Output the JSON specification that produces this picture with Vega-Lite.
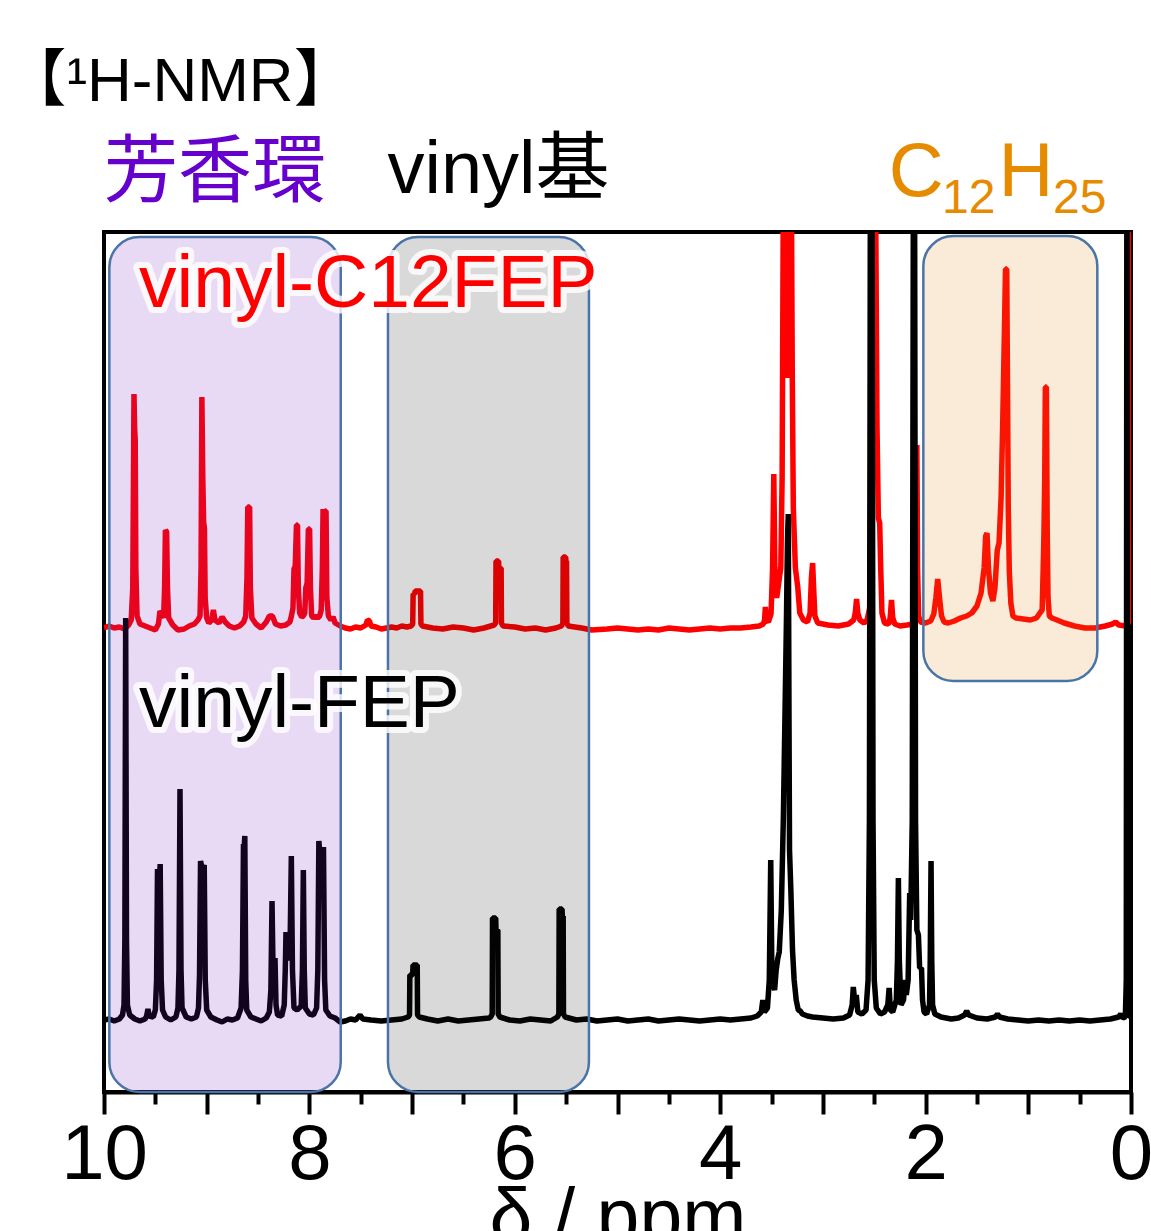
{
  "$schema": "https://vega.github.io/schema/vega-lite/v6.json",
  "width": 1027,
  "height": 860,
  "autosize": {"type": "none"},
  "padding": {"left": 104, "top": 232, "right": 20, "bottom": 139},
  "background": "white",
  "config": {"view": {"stroke": "black", "strokeWidth": 4}, "font": "Liberation Sans"},
  "data": {"values": [{}]},
  "datasets": {
    "c12fep": [
      {"ppm":10.0,"intensity":0},{"ppm":9.95,"intensity":2},{"ppm":9.9,"intensity":0},{"ppm":9.85,"intensity":1},{"ppm":9.8,"intensity":-1},{"ppm":9.76,"intensity":3},
      {"ppm":9.735,"intensity":8},{"ppm":9.72,"intensity":40},{"ppm":9.708,"intensity":234},{"ppm":9.702,"intensity":200},{"ppm":9.696,"intensity":188},{"ppm":9.69,"intensity":60},{"ppm":9.678,"intensity":12},
      {"ppm":9.65,"intensity":4},{"ppm":9.6,"intensity":2},{"ppm":9.55,"intensity":0},{"ppm":9.5,"intensity":-2},{"ppm":9.47,"intensity":4},{"ppm":9.455,"intensity":17},{"ppm":9.435,"intensity":14},
      {"ppm":9.42,"intensity":10},{"ppm":9.41,"intensity":40},{"ppm":9.402,"intensity":98},{"ppm":9.39,"intensity":96},{"ppm":9.382,"intensity":40},{"ppm":9.37,"intensity":10},
      {"ppm":9.33,"intensity":3},{"ppm":9.28,"intensity":-2},{"ppm":9.22,"intensity":-1},{"ppm":9.17,"intensity":2},{"ppm":9.12,"intensity":4},{"ppm":9.085,"intensity":8},
      {"ppm":9.065,"intensity":12},{"ppm":9.055,"intensity":60},{"ppm":9.047,"intensity":231},{"ppm":9.038,"intensity":150},{"ppm":9.03,"intensity":106},{"ppm":9.022,"intensity":100},{"ppm":9.015,"intensity":30},{"ppm":9.0,"intensity":10},
      {"ppm":8.98,"intensity":5},{"ppm":8.95,"intensity":8},{"ppm":8.935,"intensity":18},{"ppm":8.92,"intensity":8},{"ppm":8.88,"intensity":5},{"ppm":8.85,"intensity":11},{"ppm":8.82,"intensity":6},
      {"ppm":8.78,"intensity":2},{"ppm":8.73,"intensity":0},{"ppm":8.68,"intensity":2},{"ppm":8.64,"intensity":6},
      {"ppm":8.62,"intensity":12},{"ppm":8.608,"intensity":50},{"ppm":8.6,"intensity":121},{"ppm":8.582,"intensity":121},{"ppm":8.575,"intensity":40},{"ppm":8.56,"intensity":10},
      {"ppm":8.52,"intensity":4},{"ppm":8.47,"intensity":0},{"ppm":8.42,"intensity":6},{"ppm":8.39,"intensity":12},{"ppm":8.36,"intensity":12},{"ppm":8.33,"intensity":4},{"ppm":8.28,"intensity":2},{"ppm":8.23,"intensity":3},{"ppm":8.19,"intensity":6},
      {"ppm":8.175,"intensity":12},{"ppm":8.16,"intensity":20},{"ppm":8.15,"intensity":59},{"ppm":8.138,"intensity":62},{"ppm":8.126,"intensity":103},{"ppm":8.116,"intensity":103},{"ppm":8.108,"intensity":40},{"ppm":8.095,"intensity":15},
      {"ppm":8.075,"intensity":11},{"ppm":8.06,"intensity":12},{"ppm":8.045,"intensity":15},{"ppm":8.035,"intensity":40},{"ppm":8.022,"intensity":45},{"ppm":8.01,"intensity":99},{"ppm":7.998,"intensity":99},{"ppm":7.99,"intensity":40},{"ppm":7.978,"intensity":12},
      {"ppm":7.96,"intensity":10},{"ppm":7.94,"intensity":12},{"ppm":7.92,"intensity":10},{"ppm":7.9,"intensity":12},
      {"ppm":7.885,"intensity":18},{"ppm":7.874,"intensity":60},{"ppm":7.867,"intensity":119},{"ppm":7.856,"intensity":100},{"ppm":7.847,"intensity":117},{"ppm":7.838,"intensity":117},{"ppm":7.83,"intensity":30},{"ppm":7.815,"intensity":12},
      {"ppm":7.79,"intensity":8},{"ppm":7.77,"intensity":11},{"ppm":7.75,"intensity":5},{"ppm":7.7,"intensity":2},{"ppm":7.65,"intensity":0},{"ppm":7.6,"intensity":-1},{"ppm":7.55,"intensity":1},{"ppm":7.5,"intensity":0},
      {"ppm":7.45,"intensity":3},{"ppm":7.435,"intensity":8},{"ppm":7.415,"intensity":7},{"ppm":7.4,"intensity":2},{"ppm":7.35,"intensity":1},{"ppm":7.3,"intensity":-1},{"ppm":7.25,"intensity":0},{"ppm":7.2,"intensity":1},{"ppm":7.15,"intensity":0},{"ppm":7.1,"intensity":2},{"ppm":7.05,"intensity":1},
      {"ppm":7.01,"intensity":2},{"ppm":6.994,"intensity":4},{"ppm":6.99,"intensity":34},{"ppm":6.975,"intensity":34},{"ppm":6.97,"intensity":37},{"ppm":6.918,"intensity":37},{"ppm":6.914,"intensity":4},{"ppm":6.9,"intensity":2},
      {"ppm":6.8,"intensity":0},{"ppm":6.7,"intensity":-1},{"ppm":6.6,"intensity":1},{"ppm":6.5,"intensity":0},{"ppm":6.4,"intensity":-2},{"ppm":6.3,"intensity":0},{"ppm":6.2,"intensity":3},
      {"ppm":6.186,"intensity":5},{"ppm":6.183,"intensity":67},{"ppm":6.158,"intensity":67},{"ppm":6.155,"intensity":60},{"ppm":6.133,"intensity":60},{"ppm":6.13,"intensity":5},{"ppm":6.115,"intensity":2},
      {"ppm":6.0,"intensity":1},{"ppm":5.9,"intensity":-1},{"ppm":5.8,"intensity":0},{"ppm":5.7,"intensity":-2},{"ppm":5.6,"intensity":0},{"ppm":5.545,"intensity":2},
      {"ppm":5.532,"intensity":5},{"ppm":5.529,"intensity":71},{"ppm":5.505,"intensity":71},{"ppm":5.502,"intensity":67},{"ppm":5.496,"intensity":67},{"ppm":5.493,"intensity":5},{"ppm":5.48,"intensity":2},
      {"ppm":5.35,"intensity":0},{"ppm":5.25,"intensity":-2},{"ppm":5.1,"intensity":-1},{"ppm":5.0,"intensity":0},{"ppm":4.9,"intensity":-1},{"ppm":4.8,"intensity":-2},{"ppm":4.7,"intensity":-1},{"ppm":4.6,"intensity":-2},{"ppm":4.5,"intensity":0},
      {"ppm":4.4,"intensity":-1},{"ppm":4.3,"intensity":-2},{"ppm":4.2,"intensity":-1},{"ppm":4.1,"intensity":0},{"ppm":4.0,"intensity":-1},{"ppm":3.9,"intensity":0},{"ppm":3.8,"intensity":0},{"ppm":3.7,"intensity":1},{"ppm":3.62,"intensity":2},
      {"ppm":3.58,"intensity":4},{"ppm":3.568,"intensity":8},{"ppm":3.56,"intensity":21},{"ppm":3.552,"intensity":8},{"ppm":3.53,"intensity":6},{"ppm":3.505,"intensity":14},{"ppm":3.49,"intensity":60},{"ppm":3.478,"intensity":154},{"ppm":3.468,"intensity":60},
      {"ppm":3.45,"intensity":30},{"ppm":3.43,"intensity":45},{"ppm":3.42,"intensity":53},{"ppm":3.41,"intensity":60},{"ppm":3.397,"intensity":150},
      {"ppm":3.386,"intensity":420},{"ppm":3.376,"intensity":250},{"ppm":3.366,"intensity":420},{"ppm":3.356,"intensity":250},{"ppm":3.346,"intensity":420},{"ppm":3.336,"intensity":250},{"ppm":3.326,"intensity":420},{"ppm":3.316,"intensity":250},{"ppm":3.306,"intensity":420},{"ppm":3.298,"intensity":250},
      {"ppm":3.288,"intensity":120},{"ppm":3.268,"intensity":60},{"ppm":3.245,"intensity":41},{"ppm":3.225,"intensity":15},
      {"ppm":3.19,"intensity":8},{"ppm":3.15,"intensity":6},{"ppm":3.125,"intensity":15},{"ppm":3.112,"intensity":50},{"ppm":3.1,"intensity":65},{"ppm":3.09,"intensity":40},{"ppm":3.078,"intensity":12},{"ppm":3.05,"intensity":5},
      {"ppm":2.95,"intensity":3},{"ppm":2.85,"intensity":2},{"ppm":2.75,"intensity":4},{"ppm":2.7,"intensity":8},{"ppm":2.685,"intensity":15},{"ppm":2.672,"intensity":29},{"ppm":2.66,"intensity":15},{"ppm":2.64,"intensity":8},{"ppm":2.6,"intensity":5},
      {"ppm":2.57,"intensity":8},{"ppm":2.545,"intensity":20},{"ppm":2.53,"intensity":200},{"ppm":2.518,"intensity":420},{"ppm":2.502,"intensity":250},{"ppm":2.486,"intensity":420},{"ppm":2.473,"intensity":200},{"ppm":2.46,"intensity":110},{"ppm":2.447,"intensity":105},{"ppm":2.437,"intensity":60},{"ppm":2.425,"intensity":15},
      {"ppm":2.4,"intensity":5},{"ppm":2.36,"intensity":4},{"ppm":2.345,"intensity":10},{"ppm":2.332,"intensity":28},{"ppm":2.32,"intensity":10},{"ppm":2.3,"intensity":4},{"ppm":2.25,"intensity":2},{"ppm":2.18,"intensity":3},{"ppm":2.12,"intensity":4},
      {"ppm":2.1,"intensity":10},{"ppm":2.092,"intensity":60},{"ppm":2.085,"intensity":183},{"ppm":2.078,"intensity":60},{"ppm":2.068,"intensity":12},{"ppm":2.05,"intensity":6},{"ppm":2.0,"intensity":5},{"ppm":1.95,"intensity":7},
      {"ppm":1.92,"intensity":14},{"ppm":1.9,"intensity":30},{"ppm":1.882,"intensity":49},{"ppm":1.864,"intensity":30},{"ppm":1.845,"intensity":12},{"ppm":1.82,"intensity":6},{"ppm":1.78,"intensity":5},{"ppm":1.72,"intensity":7},{"ppm":1.66,"intensity":10},
      {"ppm":1.6,"intensity":12},{"ppm":1.55,"intensity":15},{"ppm":1.5,"intensity":22},{"ppm":1.46,"intensity":35},{"ppm":1.43,"intensity":60},{"ppm":1.415,"intensity":92},{"ppm":1.402,"intensity":95},{"ppm":1.388,"intensity":60},{"ppm":1.368,"intensity":35},
      {"ppm":1.345,"intensity":27},{"ppm":1.325,"intensity":40},{"ppm":1.302,"intensity":78},{"ppm":1.285,"intensity":85},{"ppm":1.265,"intensity":130},{"ppm":1.25,"intensity":200},{"ppm":1.232,"intensity":300},{"ppm":1.222,"intensity":359},{"ppm":1.21,"intensity":359},
      {"ppm":1.203,"intensity":250},{"ppm":1.195,"intensity":120},{"ppm":1.185,"intensity":57},{"ppm":1.17,"intensity":25},{"ppm":1.15,"intensity":12},{"ppm":1.12,"intensity":10},{"ppm":1.05,"intensity":9},{"ppm":0.98,"intensity":8},{"ppm":0.92,"intensity":10},
      {"ppm":0.88,"intensity":16},{"ppm":0.865,"intensity":18},{"ppm":0.855,"intensity":60},{"ppm":0.848,"intensity":93},{"ppm":0.84,"intensity":150},{"ppm":0.834,"intensity":241},{"ppm":0.824,"intensity":241},{"ppm":0.816,"intensity":100},{"ppm":0.808,"intensity":30},
      {"ppm":0.795,"intensity":12},{"ppm":0.77,"intensity":10},{"ppm":0.72,"intensity":8},{"ppm":0.65,"intensity":5},{"ppm":0.55,"intensity":2},{"ppm":0.45,"intensity":0},{"ppm":0.35,"intensity":0},{"ppm":0.25,"intensity":2},{"ppm":0.18,"intensity":4},
      {"ppm":0.15,"intensity":6},{"ppm":0.12,"intensity":3},{"ppm":0.05,"intensity":2},{"ppm":0.02,"intensity":6},{"ppm":0.01,"intensity":100},{"ppm":0.003,"intensity":900},{"ppm":-0.004,"intensity":900},{"ppm":-0.05,"intensity":0}
    ],
    "fep": [
      {"ppm":10.0,"intensity":0},{"ppm":9.95,"intensity":1},{"ppm":9.9,"intensity":-1},{"ppm":9.85,"intensity":1},{"ppm":9.82,"intensity":5},{"ppm":9.805,"intensity":15},{"ppm":9.797,"intensity":80},{"ppm":9.789,"intensity":402},{"ppm":9.781,"intensity":80},{"ppm":9.772,"intensity":15},
      {"ppm":9.75,"intensity":5},{"ppm":9.7,"intensity":1},{"ppm":9.65,"intensity":-1},{"ppm":9.6,"intensity":1},{"ppm":9.585,"intensity":4},{"ppm":9.572,"intensity":11},{"ppm":9.56,"intensity":4},{"ppm":9.52,"intensity":3},
      {"ppm":9.5,"intensity":10},{"ppm":9.488,"intensity":40},{"ppm":9.479,"intensity":151},{"ppm":9.466,"intensity":120},{"ppm":9.453,"intensity":156},{"ppm":9.443,"intensity":40},{"ppm":9.43,"intensity":10},
      {"ppm":9.4,"intensity":3},{"ppm":9.35,"intensity":0},{"ppm":9.3,"intensity":3},{"ppm":9.28,"intensity":12},{"ppm":9.27,"intensity":50},{"ppm":9.26,"intensity":231},{"ppm":9.25,"intensity":50},{"ppm":9.24,"intensity":12},
      {"ppm":9.2,"intensity":3},{"ppm":9.15,"intensity":1},{"ppm":9.1,"intensity":3},{"ppm":9.08,"intensity":12},{"ppm":9.07,"intensity":45},{"ppm":9.06,"intensity":159},{"ppm":9.042,"intensity":150},{"ppm":9.024,"intensity":155},{"ppm":9.014,"intensity":40},{"ppm":9.0,"intensity":10},
      {"ppm":8.96,"intensity":3},{"ppm":8.9,"intensity":0},{"ppm":8.85,"intensity":-2},{"ppm":8.8,"intensity":1},{"ppm":8.75,"intensity":0},{"ppm":8.7,"intensity":2},
      {"ppm":8.665,"intensity":12},{"ppm":8.652,"intensity":50},{"ppm":8.642,"intensity":176},{"ppm":8.636,"intensity":170},{"ppm":8.629,"intensity":184},{"ppm":8.62,"intensity":40},{"ppm":8.61,"intensity":10},
      {"ppm":8.57,"intensity":3},{"ppm":8.52,"intensity":1},{"ppm":8.47,"intensity":-1},{"ppm":8.42,"intensity":2},{"ppm":8.39,"intensity":8},{"ppm":8.375,"intensity":30},{"ppm":8.364,"intensity":119},{"ppm":8.354,"intensity":50},{"ppm":8.335,"intensity":62},{"ppm":8.325,"intensity":15},
      {"ppm":8.31,"intensity":5},{"ppm":8.27,"intensity":4},{"ppm":8.245,"intensity":15},{"ppm":8.235,"intensity":50},{"ppm":8.228,"intensity":88},{"ppm":8.215,"intensity":70},{"ppm":8.19,"intensity":60},{"ppm":8.176,"intensity":164},{"ppm":8.165,"intensity":50},{"ppm":8.15,"intensity":12},
      {"ppm":8.12,"intensity":10},{"ppm":8.08,"intensity":14},{"ppm":8.068,"intensity":50},{"ppm":8.059,"intensity":150},{"ppm":8.05,"intensity":50},{"ppm":8.04,"intensity":12},{"ppm":8.0,"intensity":6},{"ppm":7.96,"intensity":5},
      {"ppm":7.93,"intensity":12},{"ppm":7.918,"intensity":50},{"ppm":7.908,"intensity":179},{"ppm":7.885,"intensity":150},{"ppm":7.863,"intensity":173},{"ppm":7.852,"intensity":40},{"ppm":7.84,"intensity":10},
      {"ppm":7.8,"intensity":4},{"ppm":7.75,"intensity":2},{"ppm":7.7,"intensity":-2},{"ppm":7.65,"intensity":-1},{"ppm":7.6,"intensity":1},{"ppm":7.55,"intensity":0},{"ppm":7.507,"intensity":5},{"ppm":7.48,"intensity":1},{"ppm":7.4,"intensity":0},
      {"ppm":7.3,"intensity":-1},{"ppm":7.2,"intensity":0},{"ppm":7.1,"intensity":1},{"ppm":7.04,"intensity":3},
      {"ppm":7.025,"intensity":5},{"ppm":7.022,"intensity":45},{"ppm":6.994,"intensity":45},{"ppm":6.991,"intensity":55},{"ppm":6.95,"intensity":55},{"ppm":6.947,"intensity":5},{"ppm":6.93,"intensity":3},
      {"ppm":6.85,"intensity":1},{"ppm":6.75,"intensity":-1},{"ppm":6.65,"intensity":1},{"ppm":6.55,"intensity":-1},{"ppm":6.45,"intensity":0},{"ppm":6.35,"intensity":1},{"ppm":6.25,"intensity":2},{"ppm":6.235,"intensity":3},
      {"ppm":6.22,"intensity":6},{"ppm":6.217,"intensity":102},{"ppm":6.186,"intensity":102},{"ppm":6.183,"intensity":90},{"ppm":6.165,"intensity":90},{"ppm":6.162,"intensity":6},{"ppm":6.145,"intensity":3},
      {"ppm":6.05,"intensity":0},{"ppm":5.95,"intensity":-1},{"ppm":5.85,"intensity":1},{"ppm":5.75,"intensity":0},{"ppm":5.65,"intensity":-1},{"ppm":5.585,"intensity":3},
      {"ppm":5.571,"intensity":6},{"ppm":5.568,"intensity":111},{"ppm":5.54,"intensity":111},{"ppm":5.537,"intensity":104},{"ppm":5.529,"intensity":104},{"ppm":5.526,"intensity":6},{"ppm":5.51,"intensity":3},
      {"ppm":5.4,"intensity":0},{"ppm":5.3,"intensity":1},{"ppm":5.2,"intensity":-1},{"ppm":5.1,"intensity":0},{"ppm":5.0,"intensity":1},{"ppm":4.9,"intensity":-1},{"ppm":4.8,"intensity":0},{"ppm":4.7,"intensity":1},{"ppm":4.6,"intensity":-1},
      {"ppm":4.5,"intensity":0},{"ppm":4.4,"intensity":1},{"ppm":4.3,"intensity":0},{"ppm":4.2,"intensity":-1},{"ppm":4.1,"intensity":0},{"ppm":4.0,"intensity":1},{"ppm":3.9,"intensity":0},{"ppm":3.8,"intensity":1},{"ppm":3.7,"intensity":2},{"ppm":3.64,"intensity":4},
      {"ppm":3.6,"intensity":8},{"ppm":3.585,"intensity":20},{"ppm":3.57,"intensity":8},{"ppm":3.54,"intensity":12},{"ppm":3.522,"intensity":40},{"ppm":3.508,"intensity":160},{"ppm":3.496,"intensity":40},
      {"ppm":3.47,"intensity":30},{"ppm":3.455,"intensity":50},{"ppm":3.44,"intensity":61},{"ppm":3.425,"intensity":68},{"ppm":3.405,"intensity":110},{"ppm":3.385,"intensity":202},{"ppm":3.37,"intensity":300},{"ppm":3.355,"intensity":400},{"ppm":3.345,"intensity":480},
      {"ppm":3.337,"intensity":506},{"ppm":3.33,"intensity":300},{"ppm":3.325,"intensity":170},{"ppm":3.312,"intensity":130},{"ppm":3.296,"intensity":70},{"ppm":3.28,"intensity":40},{"ppm":3.26,"intensity":20},{"ppm":3.24,"intensity":10},{"ppm":3.22,"intensity":9},
      {"ppm":3.2,"intensity":6},{"ppm":3.15,"intensity":4},{"ppm":3.1,"intensity":3},{"ppm":3.0,"intensity":2},{"ppm":2.9,"intensity":1},{"ppm":2.8,"intensity":2},{"ppm":2.74,"intensity":5},
      {"ppm":2.715,"intensity":15},{"ppm":2.704,"intensity":33},{"ppm":2.69,"intensity":18},{"ppm":2.675,"intensity":25},{"ppm":2.66,"intensity":8},{"ppm":2.62,"intensity":6},{"ppm":2.58,"intensity":10},
      {"ppm":2.56,"intensity":40},{"ppm":2.547,"intensity":200},{"ppm":2.537,"intensity":900},{"ppm":2.522,"intensity":900},{"ppm":2.512,"intensity":200},{"ppm":2.5,"intensity":40},{"ppm":2.48,"intensity":12},
      {"ppm":2.44,"intensity":6},{"ppm":2.4,"intensity":8},{"ppm":2.368,"intensity":15},{"ppm":2.355,"intensity":32},{"ppm":2.343,"intensity":10},{"ppm":2.32,"intensity":8},{"ppm":2.285,"intensity":20},{"ppm":2.274,"intensity":60},{"ppm":2.265,"intensity":142},{"ppm":2.256,"intensity":60},
      {"ppm":2.24,"intensity":15},{"ppm":2.215,"intensity":20},{"ppm":2.2,"intensity":40},{"ppm":2.188,"intensity":25},{"ppm":2.17,"intensity":40},{"ppm":2.155,"intensity":127},{"ppm":2.145,"intensity":100},{"ppm":2.13,"intensity":200},
      {"ppm":2.118,"intensity":900},{"ppm":2.108,"intensity":900},{"ppm":2.098,"intensity":200},{"ppm":2.085,"intensity":90},{"ppm":2.07,"intensity":85},{"ppm":2.058,"intensity":52},{"ppm":2.04,"intensity":52},{"ppm":2.03,"intensity":20},
      {"ppm":2.015,"intensity":8},{"ppm":1.99,"intensity":6},{"ppm":1.962,"intensity":15},{"ppm":1.955,"intensity":60},{"ppm":1.947,"intensity":159},{"ppm":1.94,"intensity":60},{"ppm":1.932,"intensity":15},{"ppm":1.91,"intensity":6},
      {"ppm":1.85,"intensity":3},{"ppm":1.75,"intensity":1},{"ppm":1.68,"intensity":2},{"ppm":1.62,"intensity":5},{"ppm":1.6,"intensity":9},{"ppm":1.58,"intensity":5},{"ppm":1.5,"intensity":2},{"ppm":1.4,"intensity":1},
      {"ppm":1.32,"intensity":3},{"ppm":1.3,"intensity":6},{"ppm":1.28,"intensity":3},{"ppm":1.2,"intensity":1},{"ppm":1.1,"intensity":0},{"ppm":1.0,"intensity":-1},{"ppm":0.9,"intensity":0},{"ppm":0.8,"intensity":-1},{"ppm":0.7,"intensity":0},
      {"ppm":0.6,"intensity":-1},{"ppm":0.5,"intensity":0},{"ppm":0.4,"intensity":-1},{"ppm":0.3,"intensity":0},{"ppm":0.2,"intensity":1},{"ppm":0.12,"intensity":3},{"ppm":0.1,"intensity":6},{"ppm":0.08,"intensity":2},
      {"ppm":0.055,"intensity":3},{"ppm":0.046,"intensity":40},{"ppm":0.04,"intensity":900},{"ppm":0.034,"intensity":40},{"ppm":0.025,"intensity":5},{"ppm":0.0,"intensity":3},{"ppm":-0.05,"intensity":0}
    ],
    "regions": [
      {"region":"芳香環","from":9.948,"to":7.695,"bottom":-72,"top":783},
      {"region":"vinyl基","from":7.235,"to":5.278,"bottom":-72,"top":783},
      {"region":"C12H25","from":2.022,"to":0.328,"bottom":339,"top":784}
    ]
  },
  "layer": [
    {
      "data": {"name": "c12fep"},
      "mark": {"type": "line", "color": "#FF0000", "strokeWidth": 5.5, "strokeJoin": "bevel", "clip": true},
      "encoding": {
        "x": {"field": "ppm", "type": "quantitative", "scale": {"domain": [0, 10], "reverse": true, "nice": false, "zero": false},
          "axis": {
            "orient": "bottom",
            "values": [0,1,2,3,4,5,6,7,8,9,10],
            "labelExpr": "datum.value % 2 === 0 ? datum.label : ''",
            "tickSize": 22,
            "tickWidth": 4, "tickColor": "black", "domainColor": "black", "domainWidth": 4, "grid": false,
            "labelFont": "Liberation Sans", "labelFontSize": 78, "labelColor": "black", "labelPadding": 2,
            "labelFlush": false, "labelOverlap": false, "labelBound": false,
            "title": "δ / ppm", "titleFont": "Liberation Sans", "titleFontSize": 77, "titleFontWeight": "normal", "titleColor": "black", "titlePadding": -13
          }},
        "y": {"field": "intensity", "type": "quantitative", "scale": {"domain": [-464, 396], "nice": false, "zero": false}, "axis": null}
      }
    },
    {
      "data": {"name": "fep"},
      "mark": {"type": "line", "color": "#000000", "strokeWidth": 5.5, "strokeJoin": "bevel", "clip": true},
      "encoding": {
        "x": {"field": "ppm", "type": "quantitative", "scale": {"domain": [0, 10], "reverse": true, "nice": false, "zero": false},
          "axis": {
            "orient": "bottom",
            "values": [0.5,1.5,2.5,3.5,4.5,5.5,6.5,7.5,8.5,9.5],
            "tickSize": 12, "tickWidth": 4, "tickColor": "black", "domain": false, "grid": false,
            "labels": false, "title": null
          }},
        "y": {"field": "intensity", "type": "quantitative", "scale": {"domain": [-72, 788], "nice": false, "zero": false}, "axis": null}
      }
    },
    {
      "data": {"name": "regions"},
      "mark": {"type": "rect", "cornerRadius": 30, "fillOpacity": 0.16, "stroke": "#4A74A6", "strokeWidth": 2.5},
      "encoding": {
        "x": {"field": "from", "type": "quantitative", "scale": {"domain": [0, 10], "reverse": true, "nice": false, "zero": false}, "axis": null},
        "x2": {"field": "to"},
        "y": {"field": "top", "type": "quantitative", "scale": {"domain": [-72, 788], "nice": false, "zero": false}, "axis": null},
        "y2": {"field": "bottom"},
        "fill": {"field": "region", "type": "nominal", "scale": {"domain": ["芳香環", "vinyl基", "C12H25"], "range": ["#6F18C0", "#121212", "#DA820B"]}, "legend": null}
      }
    },
    {
      "mark": {"type": "text", "text": "vinyl-C12FEP", "align": "left", "baseline": "alphabetic", "font": "Liberation Sans", "fontSize": 75, "fill": "white", "stroke": "white", "strokeWidth": 12, "strokeOpacity": 0.8, "strokeJoin": "round"},
      "encoding": {
        "x": {"datum": 9.659, "type": "quantitative", "scale": {"domain": [0, 10], "reverse": true, "nice": false, "zero": false}, "axis": null},
        "y": {"datum": 713, "type": "quantitative", "scale": {"domain": [-72, 788], "nice": false, "zero": false}, "axis": null}
      }
    },
    {
      "mark": {"type": "text", "text": "vinyl-C12FEP", "align": "left", "baseline": "alphabetic", "font": "Liberation Sans", "fontSize": 75, "fill": "#FF0000"},
      "encoding": {
        "x": {"datum": 9.659, "type": "quantitative", "scale": {"domain": [0, 10], "reverse": true, "nice": false, "zero": false}, "axis": null},
        "y": {"datum": 713, "type": "quantitative", "scale": {"domain": [-72, 788], "nice": false, "zero": false}, "axis": null}
      }
    },
    {
      "mark": {"type": "text", "text": "vinyl-FEP", "align": "left", "baseline": "alphabetic", "font": "Liberation Sans", "fontSize": 75, "fill": "white", "stroke": "white", "strokeWidth": 12, "strokeOpacity": 0.8, "strokeJoin": "round"},
      "encoding": {
        "x": {"datum": 9.659, "type": "quantitative", "scale": {"domain": [0, 10], "reverse": true, "nice": false, "zero": false}, "axis": null},
        "y": {"datum": 293, "type": "quantitative", "scale": {"domain": [-72, 788], "nice": false, "zero": false}, "axis": null}
      }
    },
    {
      "mark": {"type": "text", "text": "vinyl-FEP", "align": "left", "baseline": "alphabetic", "font": "Liberation Sans", "fontSize": 75, "fill": "#000000"},
      "encoding": {
        "x": {"datum": 9.659, "type": "quantitative", "scale": {"domain": [0, 10], "reverse": true, "nice": false, "zero": false}, "axis": null},
        "y": {"datum": 293, "type": "quantitative", "scale": {"domain": [-72, 788], "nice": false, "zero": false}, "axis": null}
      }
    },
    {
      "mark": {"type": "text", "text": "【¹H-NMR】", "align": "left", "baseline": "alphabetic", "font": "Liberation Sans, Noto Sans CJK JP", "fontSize": 62, "fill": "#000000"},
      "encoding": {
        "x": {"datum": 10.97, "type": "quantitative", "scale": {"domain": [0, 10], "reverse": true, "nice": false, "zero": false}, "axis": null},
        "y": {"datum": 919, "type": "quantitative", "scale": {"domain": [-72, 788], "nice": false, "zero": false}, "axis": null}
      }
    },
    {
      "mark": {"type": "text", "text": "芳香環", "align": "left", "baseline": "alphabetic", "font": "Noto Sans CJK JP", "fontSize": 74, "fill": "#6600CC"},
      "encoding": {
        "x": {"datum": 10.0, "type": "quantitative", "scale": {"domain": [0, 10], "reverse": true, "nice": false, "zero": false}, "axis": null},
        "y": {"datum": 824, "type": "quantitative", "scale": {"domain": [-72, 788], "nice": false, "zero": false}, "axis": null}
      }
    },
    {
      "mark": {"type": "text", "text": "vinyl基", "align": "left", "baseline": "alphabetic", "font": "Liberation Sans, Noto Sans CJK JP", "fontSize": 74, "fill": "#000000"},
      "encoding": {
        "x": {"datum": 7.24, "type": "quantitative", "scale": {"domain": [0, 10], "reverse": true, "nice": false, "zero": false}, "axis": null},
        "y": {"datum": 827, "type": "quantitative", "scale": {"domain": [-72, 788], "nice": false, "zero": false}, "axis": null}
      }
    },
    {
      "mark": {"type": "text", "text": "C", "align": "left", "baseline": "alphabetic", "font": "Liberation Sans", "fontSize": 76, "fill": "#E68A00"},
      "encoding": {
        "x": {"datum": 2.36, "type": "quantitative", "scale": {"domain": [0, 10], "reverse": true, "nice": false, "zero": false}, "axis": null},
        "y": {"datum": 824, "type": "quantitative", "scale": {"domain": [-72, 788], "nice": false, "zero": false}, "axis": null}
      }
    },
    {
      "mark": {"type": "text", "text": "12", "align": "left", "baseline": "alphabetic", "font": "Liberation Sans", "fontSize": 48, "fill": "#E68A00"},
      "encoding": {
        "x": {"datum": 1.84, "type": "quantitative", "scale": {"domain": [0, 10], "reverse": true, "nice": false, "zero": false}, "axis": null},
        "y": {"datum": 807, "type": "quantitative", "scale": {"domain": [-72, 788], "nice": false, "zero": false}, "axis": null}
      }
    },
    {
      "mark": {"type": "text", "text": "H", "align": "left", "baseline": "alphabetic", "font": "Liberation Sans", "fontSize": 76, "fill": "#E68A00"},
      "encoding": {
        "x": {"datum": 1.29, "type": "quantitative", "scale": {"domain": [0, 10], "reverse": true, "nice": false, "zero": false}, "axis": null},
        "y": {"datum": 824, "type": "quantitative", "scale": {"domain": [-72, 788], "nice": false, "zero": false}, "axis": null}
      }
    },
    {
      "mark": {"type": "text", "text": "25", "align": "left", "baseline": "alphabetic", "font": "Liberation Sans", "fontSize": 48, "fill": "#E68A00"},
      "encoding": {
        "x": {"datum": 0.76, "type": "quantitative", "scale": {"domain": [0, 10], "reverse": true, "nice": false, "zero": false}, "axis": null},
        "y": {"datum": 807, "type": "quantitative", "scale": {"domain": [-72, 788], "nice": false, "zero": false}, "axis": null}
      }
    }
  ],
  "resolve": {"scale": {"y": "independent"}, "axis": {"x": "independent"}}
}
